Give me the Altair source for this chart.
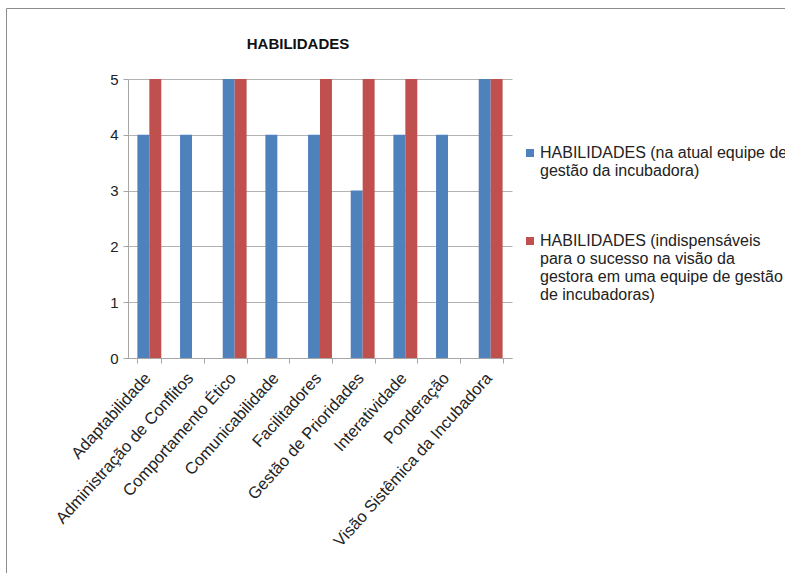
import altair as alt
import pandas as pd

categories = [
    "Adaptabilidade",
    "Administração de Conflitos",
    "Comportamento Ético",
    "Comunicabilidade",
    "Facilitadores",
    "Gestão de Prioridades",
    "Interatividade",
    "Ponderação",
    "Visão Sistêmica da Incubadora",
]
atual = [4, 4, 5, 4, 4, 3, 4, 4, 5]
indispensaveis = [5, None, 5, None, 5, 5, 5, None, 5]
series_names = [
    "HABILIDADES (na atual equipe de|gestão da incubadora)",
    "HABILIDADES (indispensáveis|para o sucesso na visão da|gestora em uma equipe de gestão|de incubadoras)",
]
colors = ["#4F81BD", "#C0504D"]
y_ticks = [0, 1, 2, 3, 4, 5]

rows = []
for c, a, b in zip(categories, atual, indispensaveis):
    rows.append({"cat": c, "serie": series_names[0], "valor": a})
    if b is not None:
        rows.append({"cat": c, "serie": series_names[1], "valor": b})
df = pd.DataFrame(rows)

FONT = "Liberation Sans"

border = alt.Chart(pd.DataFrame({"k": [0]})).mark_rect(
    fill="transparent", stroke="#8c8c8c", strokeWidth=1
).encode(
    x=alt.value(-121.5), x2=alt.value(700), y=alt.value(-70.5), y2=alt.value(600)
)

bars = alt.Chart(df).mark_bar().encode(
    x=alt.X(
        "cat:N",
        sort=categories,
        title=None,
        scale=alt.Scale(paddingInner=0.44, paddingOuter=0.22),
        axis=alt.Axis(
            labelAngle=-48,
            tickBand="extent",
            grid=False,
            domainColor="#a6a6a6",
            tickColor="#a6a6a6",
            tickSize=5,
            labelFontSize=16.5,
            labelFont=FONT,
            labelColor="#222222",
            labelPadding=12,
            labelOffset=-2,
            labelLimit=400,
        ),
    ),
    xOffset=alt.XOffset("serie:N", sort=series_names),
    y=alt.Y(
        "valor:Q",
        title=None,
        scale=alt.Scale(domain=[0, 5], nice=False),
        axis=alt.Axis(
            values=y_ticks,
            format="d",
            grid=True,
            gridColor="#b3b3b3",
            domainColor="#a6a6a6",
            tickColor="#a6a6a6",
            tickSize=5,
            labelFontSize=15,
            labelFont=FONT,
            labelColor="#222222",
            labelPadding=5,
        ),
    ),
    color=alt.Color(
        "serie:N",
        scale=alt.Scale(domain=series_names, range=colors),
        legend=alt.Legend(
            title=None,
            orient="none",
            legendX=394,
            legendY=66,
            padding=0,
            symbolType="square",
            symbolSize=64,
            symbolStrokeWidth=0,
            labelFontSize=16,
            labelFont=FONT,
            labelColor="#222222",
            labelOffset=2,
            labelLimit=400,
            rowPadding=54,
            labelExpr="split(datum.label, '|')",
        ),
    ),
)

chart = alt.layer(border, bars).properties(
    width=384,
    height=279,
    autosize=alt.AutoSizeParams(type="none"),
    padding={"left": 128, "top": 79, "right": 273, "bottom": 215},
    title=alt.TitleParams(
        "HABILIDADES",
        font=FONT,
        fontSize=15,
        fontWeight="bold",
        color="#111111",
        anchor="middle",
        dx=-22,
        offset=-44,
    ),
).configure_view(strokeWidth=0).configure_text(lineHeight=19)

chart.save("out.html", embed_options={"renderer": "svg", "actions": False})
